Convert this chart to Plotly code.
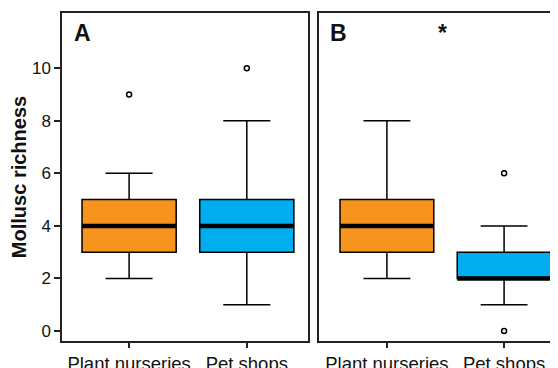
import plotly.graph_objects as go

categories = ["Plant nurseries", "Pet shops"]
colors = ["#F7941E", "#00AEEF"]

# Panel A
a_q1 = [3, 3]
a_median = [4, 4]
a_q3 = [5, 5]
a_lower = [2, 1]
a_upper = [6, 8]
a_outliers = [[9], [10]]

# Panel B
b_q1 = [3, 2]
b_median = [4, 2]
b_q3 = [5, 3]
b_lower = [2, 1]
b_upper = [8, 4]
b_outliers = [[], [6, 0]]

y_ticks = [0, 2, 4, 6, 8, 10]

fig = go.Figure()
BW = 0.8

def add_panel(xa, ya, q1, med, q3, lo, up, outl):
    for i in range(len(categories)):
        fig.add_trace(go.Box(
            x=[i], q1=[q1[i]], median=[med[i]], q3=[q3[i]],
            lowerfence=[lo[i]], upperfence=[up[i]],
            width=BW, whiskerwidth=0.5, fillcolor=colors[i],
            line=dict(color="black", width=1.5), boxpoints=False,
            xaxis=xa, yaxis=ya, showlegend=False, hoverinfo="skip"))
        fig.add_trace(go.Scatter(
            x=[i - BW / 2, i + BW / 2], y=[med[i], med[i]], mode="lines",
            line=dict(color="black", width=4.5), xaxis=xa, yaxis=ya,
            showlegend=False, hoverinfo="skip"))
        if outl[i]:
            fig.add_trace(go.Scatter(
                x=[i] * len(outl[i]), y=outl[i], mode="markers",
                marker=dict(symbol="circle-open", size=5, color="black",
                            line=dict(width=1.5)),
                xaxis=xa, yaxis=ya, showlegend=False, hoverinfo="skip"))

add_panel("x", "y", a_q1, a_median, a_q3, a_lower, a_upper, a_outliers)
add_panel("x2", "y2", b_q1, b_median, b_q3, b_lower, b_upper, b_outliers)

axis_line = dict(showline=True, linecolor="#222", linewidth=1.5, mirror=True,
                 showgrid=False, zeroline=False, automargin=False)
FAM = "Liberation Sans, Arial, sans-serif"
font_ytick = dict(family=FAM, size=17, color="#111")
font_xtick = dict(family=FAM, size=18.5, color="#111")

fig.update_layout(
    width=550, height=360,
    margin=dict(l=54, r=0, t=5, b=27),
    paper_bgcolor="white", plot_bgcolor="white",
    xaxis=dict(domain=[0, 0.496], range=[-0.57, 1.52], tickvals=[0, 1],
               ticktext=categories, ticks="outside", ticklen=5, tickwidth=1.5,
               tickcolor="#222", tickfont=font_xtick, **axis_line),
    xaxis2=dict(domain=[0.518, 1], range=[-0.58, 1.46], tickvals=[0, 1],
                ticktext=categories, ticks="outside", ticklen=5, tickwidth=1.5,
                tickcolor="#222", tickfont=font_xtick, anchor="y2", **axis_line),
    yaxis=dict(range=[-0.38, 12.1], tickvals=y_ticks, ticks="outside",
               ticklen=6, tickwidth=1.5, tickcolor="#222", tickfont=font_ytick,
               title=dict(text="<b>Mollusc richness</b>", standoff=8,
                          font=dict(family=FAM, size=20, color="#111")),
               **axis_line),
    yaxis2=dict(range=[-0.38, 12.1], showticklabels=False, anchor="x2",
                **axis_line),
)

label_font = dict(family=FAM, size=23, color="#111")
fig.add_annotation(text="<b>A</b>", xref="x domain", yref="y domain", x=0.04, y=0.985,
                   xanchor="left", yanchor="top", showarrow=False, font=label_font)
fig.add_annotation(text="<b>B</b>", xref="x2 domain", yref="y2 domain", x=0.04, y=0.985,
                   xanchor="left", yanchor="top", showarrow=False, font=label_font)
fig.add_annotation(text="<b>*</b>", xref="x2 domain", yref="y2 domain", x=0.515, y=0.985,
                   xanchor="center", yanchor="top", showarrow=False, font=label_font)

fig.write_html("out.html")
